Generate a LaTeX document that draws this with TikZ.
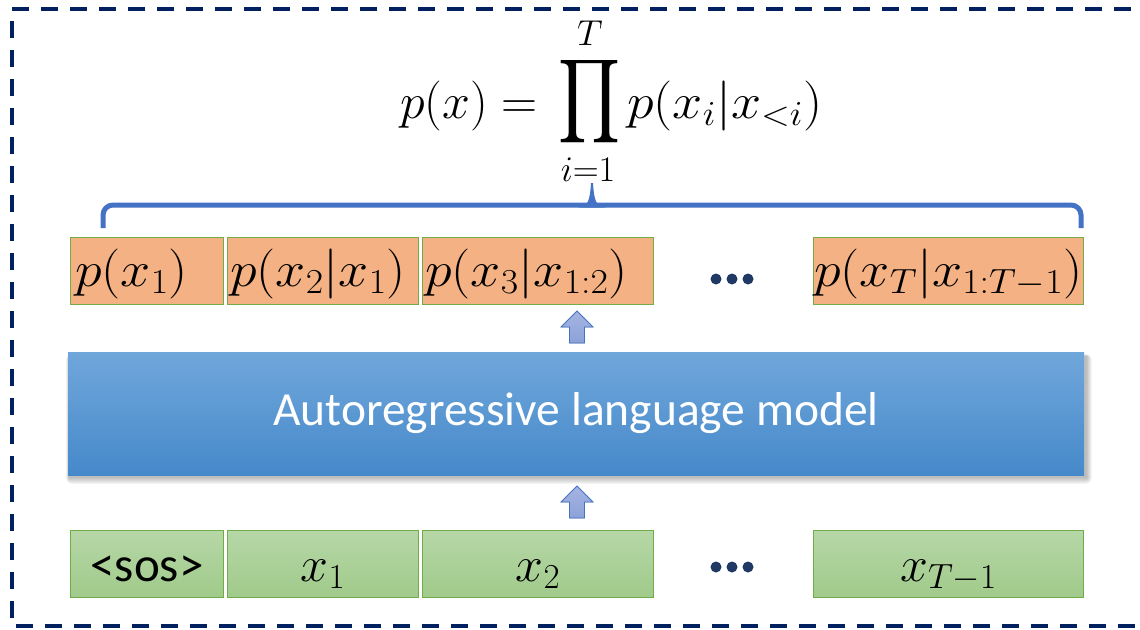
\RequirePackage{fix-cm}
\documentclass[tikz,border=0pt]{standalone}
\usepackage{amsmath}
\usepackage{fontspec}
\usepackage{graphicx}
\newfontfamily\calibri{Carlito}
\usetikzlibrary{calc}

\definecolor{framenavy}{RGB}{0,32,96}
\definecolor{braceblue}{RGB}{68,114,196}
\definecolor{tokorange}{RGB}{244,177,131}
\definecolor{tokedge}{RGB}{112,173,71}
\definecolor{gtop}{RGB}{182,215,167}
\definecolor{gbot}{RGB}{160,202,138}
\definecolor{btop}{RGB}{112,167,219}
\definecolor{bbot}{RGB}{70,137,202}
\definecolor{dotnavy}{RGB}{32,56,100}
\definecolor{arrowtop}{RGB}{165,180,226}
\definecolor{arrowbot}{RGB}{140,162,216}

% slightly widened math for the conditional labels
\newcommand{\widemath}[1]{\scalebox{1.08}[1]{$#1$}}

\begin{document}
\begin{tikzpicture}[x=1pt,y=-1pt,
  obox/.style={rectangle, fill=tokorange, draw=tokedge, line width=1pt,
               minimum height=67pt, inner sep=0pt, anchor=north west},
  gbox/.style={rectangle, top color=gtop, bottom color=gbot, draw=tokedge,
               line width=1pt, minimum height=67pt, inner sep=0pt, anchor=north west},
  mlbl/.style={font=\fontsize{50}{60}\selectfont, inner sep=0pt},
  limlbl/.style={font=\fontsize{36}{40}\selectfont, inner sep=0pt, anchor=base},
  modelbox/.style={rectangle, top color=btop, bottom color=bbot, draw=none,
               minimum width=1016pt, minimum height=123pt, inner sep=0pt,
               text=white, font=\calibri\fontsize{47.5}{57}\selectfont},
  uparrow/.pic={
    \filldraw[draw=braceblue, line width=0.8pt, top color=arrowtop, bottom color=arrowbot]
      (0,0) -- (16,16) -- (7.5,16) -- (7.5,32) -- (-7.5,32) -- (-7.5,16) -- (-16,16) -- cycle;
  }]
\useasboundingbox (0,0) rectangle (1140,629);
\fill[white] (0,0) rectangle (1140,629);

% dashed frame (its right side runs past the page)
\draw[framenavy, line width=3.5pt, dash pattern=on 17pt off 12pt]
  (1160,9) -- (12,9) -- (12,626) -- (1160,626);

% factorised likelihood: p(x) = prod_{i=1}^{T} p(x_i | x_<i)
\node[mlbl, anchor=base east] (eqlhs) at (538,118) {$p(x) =$};
\node[inner sep=0pt] (prodsym) at (589,102) {\resizebox*{62pt}{94pt}{$\displaystyle\prod$}};
\node[limlbl] (produp) at (590,45) {$T$};
\node[limlbl] (proddown) at (588,181) {$i{=}1$};
\node[mlbl, anchor=base west] (eqrhs) at (627,118) {\widemath{p(x_i|x_{<i})}};

% curly brace grouping the conditionals
\draw[braceblue, line width=5pt, rounded corners=10pt]
  (103,228) -- (103,205) -- (1081,205) -- (1081,228);
\fill[braceblue] (578,207.5) .. controls (588,207.5) and (590,200) .. (591,183)
  -- (593,183) .. controls (594,200) and (596,207.5) .. (606,207.5) -- cycle;

% output conditionals
\node[obox, minimum width=153pt] (p1) at (70,237) {};
\node[obox, minimum width=191pt] (p2) at (227,237) {};
\node[obox, minimum width=231pt] (p3) at (422,237) {};
\node[obox, minimum width=270pt] (p4) at (813,237) {};
\node[mlbl, anchor=base west] (p1t) at ([shift={(5pt,19pt)}]p1.south west) {\widemath{p(x_1)}};
\node[mlbl, anchor=base west] (p2t) at ([shift={(3pt,19pt)}]p2.south west) {\widemath{p(x_2|x_1)}};
\node[mlbl, anchor=base west] (p3t) at ([shift={(3pt,19pt)}]p3.south west) {\widemath{p(x_3|x_{1:2})}};
\node[mlbl, anchor=base west] (p4t) at ([shift={(1pt,19pt)}]p4.south west) {\widemath{p(x_T|x_{1:T-1})}};
\foreach \cx in {716,732,748} \fill[dotnavy] (\cx,279) circle (5.5pt);

% language model block with soft shadow
\foreach \k in {0,...,6}
  \fill[black, opacity=0.04, rounded corners=\k pt] (69-\k*0.5,356-\k*0.3) rectangle (1087+\k*0.8,478+\k);
\node[modelbox] (lm) at (576,413.5) {Autoregressive language model};

\pic at (577,311) {uparrow};
\pic at (577,486) {uparrow};

% input tokens
\node[gbox, minimum width=153pt] (s0) at (70,530) {};
\node[gbox, minimum width=191pt] (s1) at (227,530) {};
\node[gbox, minimum width=231pt] (s2) at (422,530) {};
\node[gbox, minimum width=270pt] (s3) at (813,530) {};
\node[inner sep=0pt, anchor=base, font=\calibri\fontsize{49}{58}\selectfont] (s0t)
  at ([yshift=17pt]s0.south) {<sos>};
\node[mlbl, anchor=base] (s1t) at ([yshift=17pt]s1.south) {$x_1$};
\node[mlbl, anchor=base] (s2t) at ([yshift=17pt]s2.south) {$x_2$};
\node[mlbl, anchor=base] (s3t) at ([yshift=17pt]s3.south) {$x_{T-1}$};
\foreach \cx in {716,732,748} \fill[dotnavy] (\cx,567) circle (5.5pt);
\end{tikzpicture}
\end{document}
